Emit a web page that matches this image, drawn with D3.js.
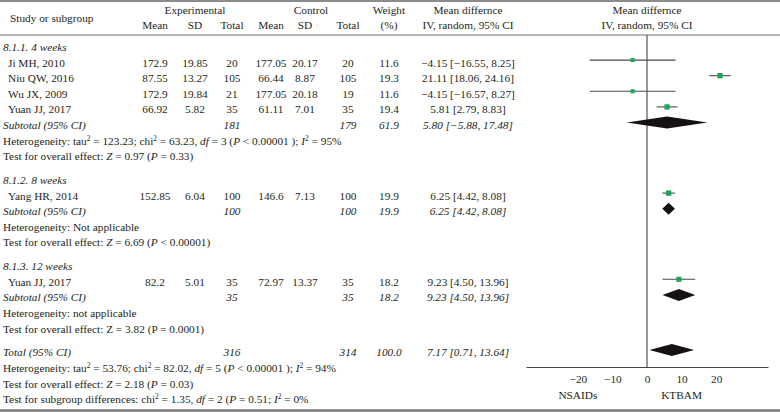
<!DOCTYPE html>
<html lang="en">
<head>
<meta charset="UTF-8">
<title>Forest plot</title>
<script src="https://d3js.org/d3.v7.min.js"></script>
<style>
    body { margin: 0; background: #ffffff; overflow: hidden; }
    svg { display: block; font-family: "Liberation Serif", "DejaVu Serif", serif; }
</style>
</head>
<body>
<div id="chart"></div>
<script>
// ---- data ----
const groupNames = ["8.1.1. 4 weeks", "8.1.2. 8 weeks", "8.1.3. 12 weeks"];
const studyNames = ["Ji MH, 2010", "Niu QW, 2016", "Wu JX, 2009", "Yuan JJ, 2017", "Yang HR, 2014", "Yuan JJ, 2017"];
const studyGroup = [0, 0, 0, 0, 1, 2];
const expMean = [172.9, 87.55, 172.9, 66.92, 152.85, 82.2];
const expSD = [19.85, 13.27, 19.84, 5.82, 6.04, 5.01];
const expTotal = [20, 105, 21, 35, 100, 35];
const ctlMean = [177.05, 66.44, 177.05, 61.11, 146.6, 72.97];
const ctlSD = [20.17, 8.87, 20.18, 7.01, 7.13, 13.37];
const ctlTotal = [20, 105, 19, 35, 100, 35];
const weights = [11.6, 19.3, 11.6, 19.4, 19.9, 18.2];
const meanDiff = [-4.15, 21.11, -4.15, 5.81, 6.25, 9.23];
const ciLow = [-16.55, 18.06, -16.57, 2.79, 4.42, 4.50];
const ciHigh = [8.25, 24.16, 8.27, 8.83, 8.08, 13.96];

const subExpTotal = [181, 100, 35];
const subCtlTotal = [179, 100, 35];
const subWeight = [61.9, 19.9, 18.2];
const subMD = [5.80, 6.25, 9.23];
const subLow = [-5.88, 4.42, 4.50];
const subHigh = [17.48, 8.08, 13.96];

// total row: exp total, ctl total, weight, md, low, high
const totalRow = [316, 314, 100.0, 7.17, 0.71, 13.64];

// rich text: [text, style]  style: "i" italic, "s" superscript
const hetTexts = [
    [["Heterogeneity: tau"], ["2", "s"], [" = 123.23; chi"], ["2", "s"], [" = 63.23, "], ["df", "i"], [" = 3 ("], ["P", "i"], [" < 0.00001 ); "], ["I", "i"], ["2", "s"], [" = 95%"]],
    [["Heterogeneity: Not applicable"]],
    [["Heterogeneity: not applicable"]]
];
const testTexts = [
    [["Test for overall effect: "], ["Z", "i"], [" = 0.97 ("], ["P", "i"], [" = 0.33)"]],
    [["Test for overall effect: "], ["Z", "i"], [" = 6.69 ("], ["P", "i"], [" < 0.00001)"]],
    [["Test for overall effect: Z = 3.82 (P = 0.0001)"]]
];
const totalTexts = [
    [["Heterogeneity: tau"], ["2", "s"], [" = 53.76; chi"], ["2", "s"], [" = 82.02, "], ["df", "i"], [" = 5 ("], ["P", "i"], [" < 0.00001 ); "], ["I", "i"], ["2", "s"], [" = 94%"]],
    [["Test for overall effect: "], ["Z", "i"], [" = 2.18 ("], ["P", "i"], [" = 0.03)"]],
    [["Test for subgroup differences: chi"], ["2", "s"], [" = 1.35, "], ["df", "i"], [" = 2 ("], ["P", "i"], [" = 0.51; "], ["I", "i"], ["2", "s"], [" = 0%"]]
];

const xTicks = [-20, -10, 0, 10, 20];
const favourLabels = ["NSAIDs", "KTBAM"];

// ---- layout ----
const width = 780, height = 412;
const fs = 11.3;
const ink = "#231f20";
const col = { expMean: 155, expSD: 195, expTotal: 232, ctlMean: 271, ctlSD: 305, ctlTotal: 348, weight: 389, md: 468 };

const x = d3.scaleLinear().domain([-35, 35]).range([526, 768]);
const fmt2 = d3.format(".2f");
const fmt1 = d3.format(".1f");
const ciText = (m, l, h) => `${fmt2(m)} [${fmt2(l)}, ${fmt2(h)}]`;

const svg = d3.select("#chart").append("svg")
    .attr("width", width)
    .attr("height", height)
    .style("font-size", fs + "px")
    .attr("fill", ink);

// build rows
const rows = [];
groupNames.forEach((g, gi) => {
    rows.push({ type: "group", g: gi });
    studyNames.forEach((n, i) => { if (studyGroup[i] === gi) rows.push({ type: "study", i: i }); });
    rows.push({ type: "subtotal", g: gi });
    rows.push({ type: "rich", parts: hetTexts[gi] });
    rows.push({ type: "rich", parts: testTexts[gi] });
});
rows.push({ type: "total" });
totalTexts.forEach(p => rows.push({ type: "rich", parts: p }));

const step = 15.6, gap = 8.2;
let yy = 47;
rows.forEach((r, k) => {
    if (k > 0 && (r.type === "group" || r.type === "total")) yy += gap;
    r.y = yy;
    yy += step;
});

function richText(parent, parts, xPos, y) {
    const t = parent.append("text").attr("x", xPos).attr("y", y + 4);
    let sup = false;
    parts.forEach(p => {
        const ts = t.append("tspan").text(p[0]);
        if (p[1] === "i") ts.attr("font-style", "italic");
        if (p[1] === "s") {
            ts.attr("font-size", fs * 0.65).attr("dy", -4);
            sup = true;
        } else if (sup) {
            ts.attr("dy", 4);
            sup = false;
        }
    });
    return t;
}

function cell(txt, cx, y, italic) {
    svg.append("text")
        .attr("x", cx).attr("y", y + 4)
        .attr("text-anchor", "middle")
        .attr("font-style", italic ? "italic" : null)
        .text(txt);
}

// ---- rules ----
svg.append("line").attr("x1", 0).attr("x2", width).attr("y1", 1).attr("y2", 1)
    .attr("stroke", "#8c8c8c").attr("stroke-width", 2);
svg.append("line").attr("x1", 0).attr("x2", width).attr("y1", 35).attr("y2", 35)
    .attr("stroke", "#6e6e6e").attr("stroke-width", 1);
svg.append("line").attr("x1", 0).attr("x2", width).attr("y1", 410.5).attr("y2", 410.5)
    .attr("stroke", "#7a7a7a").attr("stroke-width", 2.5);

// ---- header ----
const hdr = [
    ["Experimental", 195, 10], ["Control", 311, 10], ["Weight", col.weight, 10], ["(%)", col.weight, 25],
    ["Mean differnce", col.md, 10], ["IV, random, 95% CI", col.md, 25],
    ["Mean differnce", x(0), 10], ["IV, random, 95% CI", x(0), 25],
    ["Mean", col.expMean, 25], ["SD", col.expSD, 25], ["Total", col.expTotal, 25],
    ["Mean", col.ctlMean, 25], ["SD", col.ctlSD, 25], ["Total", col.ctlTotal, 25]
];
hdr.forEach(h => cell(h[0], h[1], h[2], false));
svg.append("text").attr("x", 10).attr("y", 18 + 4).text("Study or subgroup");

// ---- zero line and axis ----
const axisY = 367;
svg.append("line")
    .attr("x1", x(0)).attr("x2", x(0)).attr("y1", 35).attr("y2", axisY)
    .attr("stroke", "#555").attr("stroke-width", 1.2);

const axis = svg.append("g")
    .attr("transform", `translate(0,${axisY})`)
    .call(d3.axisBottom(x).tickValues(xTicks).tickSize(0).tickSizeOuter(0).tickPadding(8));
axis.select(".domain").attr("stroke", "#444").attr("stroke-width", 1.1);
axis.selectAll("text")
    .attr("fill", ink)
    .style("font-family", "'Liberation Serif', serif")
    .style("font-size", fs + "px");

cell(favourLabels[0], x(-20), 395, false);
cell(favourLabels[1], x(10), 395, false);

// ---- rows ----
const forest = svg.append("g");
const mk = 2.5;
rows.forEach(r => {
    if (r.type === "group") {
        svg.append("text").attr("x", 3).attr("y", r.y + 4)
            .attr("font-style", "italic").text(groupNames[r.g]);
    } else if (r.type === "study") {
        const i = r.i;
        svg.append("text").attr("x", 8).attr("y", r.y + 4).text(studyNames[i]);
        cell(expMean[i], col.expMean, r.y);
        cell(expSD[i], col.expSD, r.y);
        cell(expTotal[i], col.expTotal, r.y);
        cell(ctlMean[i], col.ctlMean, r.y);
        cell(ctlSD[i], col.ctlSD, r.y);
        cell(ctlTotal[i], col.ctlTotal, r.y);
        cell(fmt1(weights[i]), col.weight, r.y);
        cell(ciText(meanDiff[i], ciLow[i], ciHigh[i]), col.md, r.y);
        const cy = r.y - mk;
        forest.append("line")
            .attr("x1", x(ciLow[i])).attr("x2", x(ciHigh[i]))
            .attr("y1", cy).attr("y2", cy)
            .attr("stroke", "#4a4a4a").attr("stroke-width", 1.1);
        const s = Math.sqrt(weights[i]) * 1.2;
        forest.append("rect")
            .attr("x", x(meanDiff[i]) - s / 2).attr("y", cy - s / 2)
            .attr("width", s).attr("height", s)
            .attr("fill", "#1fa556");
    } else if (r.type === "subtotal" || r.type === "total") {
        const isT = r.type === "total";
        const g = r.g;
        svg.append("text").attr("x", 3).attr("y", r.y + 4)
            .attr("font-style", "italic").text(isT ? "Total (95% CI)" : "Subtotal (95% CI)");
        const vals = isT ? totalRow : [subExpTotal[g], subCtlTotal[g], subWeight[g], subMD[g], subLow[g], subHigh[g]];
        cell(vals[0], col.expTotal, r.y, true);
        cell(vals[1], col.ctlTotal, r.y, true);
        cell(fmt1(vals[2]), col.weight, r.y, true);
        cell(ciText(vals[3], vals[4], vals[5]), col.md, r.y, true);
        const cy = r.y - mk, h = 6;
        forest.append("path")
            .attr("d", d3.line()([[x(vals[4]), cy], [x(vals[3]), cy - h], [x(vals[5]), cy], [x(vals[3]), cy + h]]) + "Z")
            .attr("fill", "#161214");
    } else {
        richText(svg, r.parts, 3, r.y);
    }
});
</script>
</body>
</html>
